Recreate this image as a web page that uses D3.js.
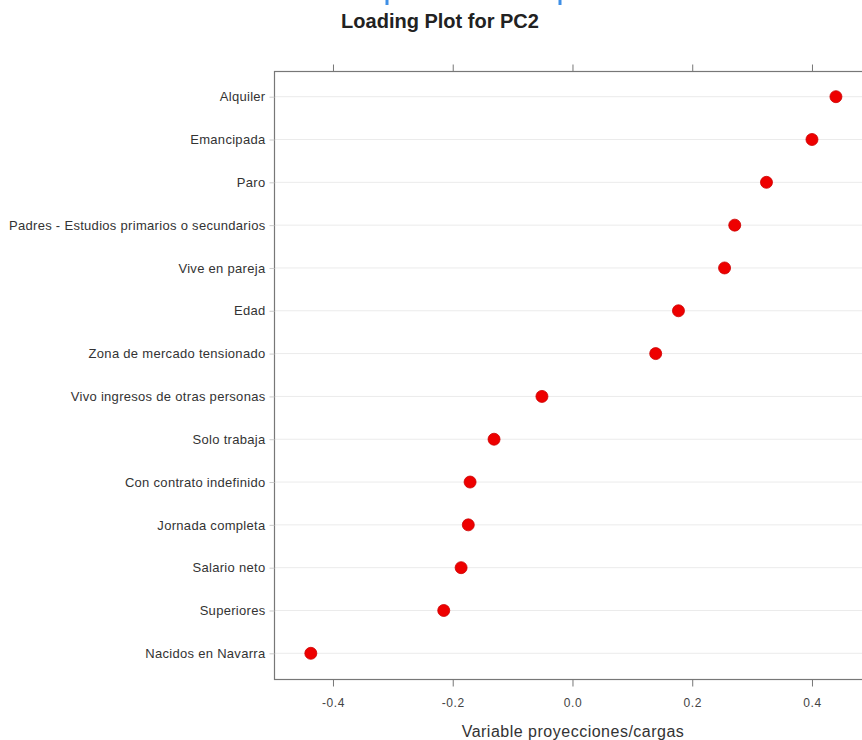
<!DOCTYPE html>
<html lang="en">
<head>
    <meta charset="UTF-8">
    <title>Loading Plot for PC2</title>
    <script src="https://d3js.org/d3.v7.min.js"></script>
    <style>
        body { margin: 0; background: #fff; }
        svg text { font-family: "Liberation Sans", Arial, sans-serif; }
    </style>
</head>
<body>
<script>

    // variables, top to bottom
    var variables = ["Alquiler", "Emancipada", "Paro", "Padres - Estudios primarios o secundarios",
        "Vive en pareja", "Edad", "Zona de mercado tensionado", "Vivo ingresos de otras personas",
        "Solo trabaja", "Con contrato indefinido", "Jornada completa", "Salario neto",
        "Superiores", "Nacidos en Navarra"];

    // loadings on PC2
    var loadings = [0.440, 0.400, 0.324, 0.271, 0.254, 0.177, 0.139, -0.051,
        -0.131, -0.171, -0.174, -0.186, -0.215, -0.437];

    var xTicks = [-0.4, -0.2, 0.0, 0.2, 0.4];

    var width = 862;
    var height = 740;
    var margin = {top: 71, left: 274, bottom: 61};

    var svg = d3.select("body")
        .append("svg")
        .attr("width", width)
        .attr("height", height);

    // panel runs off the right edge like in the original
    var x = d3.scaleLinear()
        .domain([-0.4985, 0.5])
        .range([margin.left, margin.left + 598.75 * 0.9985]);

    var y = d3.scalePoint()
        .domain(variables)
        .range([margin.top, height - margin.bottom])
        .padding(0.6);

    var panelRight = 880;

    // grid lines
    svg.append("g")
        .selectAll("line")
        .data(variables)
        .enter()
        .append("line")
        .attr("x1", margin.left)
        .attr("x2", panelRight)
        .attr("y1", function(d) { return y(d); })
        .attr("y2", function(d) { return y(d); })
        .style("stroke", "#ebebeb")
        .style("stroke-width", 1);

    // panel border
    svg.append("rect")
        .attr("x", margin.left + 0.5)
        .attr("y", margin.top + 0.5)
        .attr("width", panelRight - margin.left)
        .attr("height", height - margin.bottom - margin.top)
        .attr("fill", "none")
        .style("stroke", "#777")
        .style("stroke-width", 1.2);

    // bottom axis
    var xAxis = svg.append("g")
        .attr("transform", "translate(0," + (height - margin.bottom + 0.5) + ")")
        .call(d3.axisBottom(x).tickValues(xTicks)
            .tickFormat(function(d) { return d3.format(".1f")(d).replace("\u2212", "-"); })
            .tickSize(7).tickPadding(12));
    xAxis.select(".domain").remove();
    xAxis.selectAll("line").style("stroke", "#777");
    xAxis.selectAll("text").style("font-size", "12px").style("letter-spacing", "0.6px").style("fill", "#444");

    // top axis, ticks only
    var xTop = svg.append("g")
        .attr("transform", "translate(0," + (margin.top + 0.5) + ")")
        .call(d3.axisTop(x).tickValues(xTicks).tickSize(7).tickFormat(""));
    xTop.select(".domain").remove();
    xTop.selectAll("line").style("stroke", "#777");

    // left axis
    var yAxis = svg.append("g")
        .attr("transform", "translate(" + (margin.left + 0.5) + ",0)")
        .call(d3.axisLeft(y).tickSize(5).tickPadding(4));
    yAxis.select(".domain").remove();
    yAxis.selectAll("line").style("stroke", "#ccc");
    yAxis.selectAll("text").style("font-size", "13px").style("letter-spacing", "0.3px").style("fill", "#333");

    // points
    svg.append("g")
        .selectAll("circle")
        .data(variables)
        .enter()
        .append("circle")
        .attr("cx", function(d, i) { return x(loadings[i]); })
        .attr("cy", function(d) { return y(d); })
        .attr("r", 6)
        .attr("fill", "#ee0000")
        .style("stroke", "#cc0000")
        .style("stroke-width", 0.8);

    // title
    svg.append("text")
        .attr("x", 440)
        .attr("y", 28)
        .attr("text-anchor", "middle")
        .style("font-size", "20px")
        .style("font-weight", "bold")
        .style("fill", "#222")
        .text("Loading Plot for PC2");

    // x label
    svg.append("text")
        .attr("x", 573)
        .attr("y", 737)
        .attr("text-anchor", "middle")
        .style("font-size", "16px")
        .style("letter-spacing", "0.5px")
        .style("fill", "#333")
        .text("Variable proyecciones/cargas");

    // little blue marks at the top edge (selection handles in the screenshot)
    svg.selectAll("rect.handle")
        .data([387, 560])
        .enter()
        .append("rect")
        .attr("class", "handle")
        .attr("x", function(d) { return d - 1.5; })
        .attr("y", 0)
        .attr("width", 3)
        .attr("height", 5)
        .attr("fill", "#3f8fe6");

</script>
</body>
</html>
